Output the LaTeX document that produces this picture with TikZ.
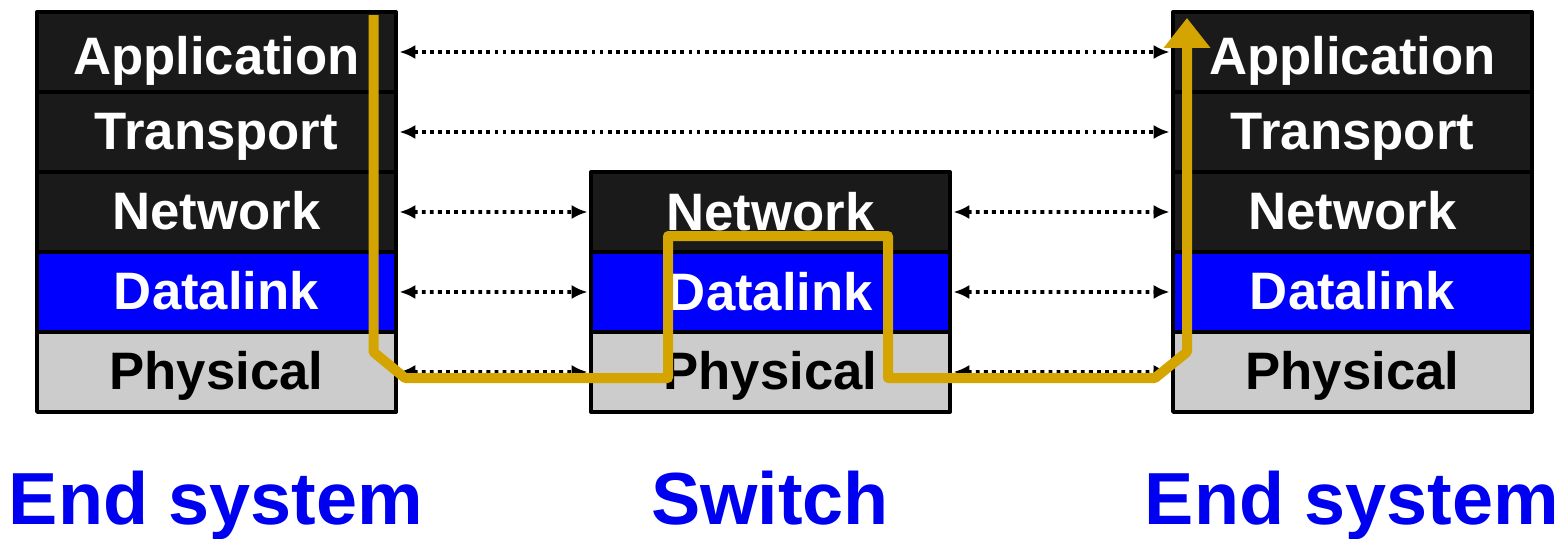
\documentclass[tikz,border=0pt]{standalone}
\usepackage{fontspec}
\setmainfont{Liberation Sans}
\usetikzlibrary{positioning,arrows.meta}

\definecolor{layerdark}{RGB}{26,26,26}
\definecolor{layerblue}{RGB}{0,0,255}
\definecolor{layergray}{RGB}{204,204,204}
\definecolor{pathgold}{RGB}{212,165,0}
\definecolor{titleblue}{RGB}{0,0,240}

\begin{document}
\begin{tikzpicture}[x=0.02cm,y=-0.02cm,line join=round,
    layer/.style={draw=black,line width=0.08cm,minimum width=7.18cm,minimum height=1.6cm,
                  inner sep=0pt,outer sep=0pt,text height=22pt,text depth=1.5pt,
                  font=\fontsize{30}{36}\selectfont\bfseries},
    upper/.style={layer,fill=layerdark,text=white},
    topmost/.style={upper,text height=28pt,text depth=2pt},
    link/.style={layer,fill=layerblue,text=white},
    phys/.style={layer,fill=layergray,text=black},
    peer/.style={line width=2.2pt,dash pattern=on 2.2pt off 2.4pt,
                 {Latex[length=9pt,width=8pt]}-{Latex[length=9pt,width=8pt]},
                 shorten <=2pt,shorten >=2pt},
    title/.style={text=titleblue,font=\fontsize{42}{48}\selectfont\bfseries,anchor=base}]
        \useasboundingbox (0,0) rectangle (1568,538);

        % Linkes Endsystem
        \node[topmost] (lapp) at (216.5,52) {Application};
        \node[upper,below=0pt of lapp] (ltra) {Transport};
        \node[upper,below=0pt of ltra] (lnet) {Network};
        \node[link,below=0pt of lnet] (ldat) {Datalink};
        \node[phys,below=0pt of ldat] (lphy) {Physical};

        % Switch
        \node[upper] (snet) at (770.5,212) {Network};
        \node[link,below=0pt of snet] (sdat) {Datalink};
        \node[phys,below=0pt of sdat] (sphy) {Physical};

        % Rechtes Endsystem
        \node[topmost] (rapp) at (1352.5,52) {Application};
        \node[upper,below=0pt of rapp] (rtra) {Transport};
        \node[upper,below=0pt of rtra] (rnet) {Network};
        \node[link,below=0pt of rnet] (rdat) {Datalink};
        \node[phys,below=0pt of rdat] (rphy) {Physical};

        % Peer-Verbindungen
        \draw[peer] (lapp.east) -- (rapp.west);
        \draw[peer] (ltra.east) -- (rtra.west);
        \draw[peer] (lnet.east) -- (snet.west);
        \draw[peer] (snet.east) -- (rnet.west);
        \draw[peer] (ldat.east) -- (sdat.west);
        \draw[peer] (sdat.east) -- (rdat.west);
        \draw[peer] (lphy.east) -- (sphy.west);
        \draw[peer] (sphy.east) -- (rphy.west);

        % Datenweg
        \coordinate (gstart) at (373.5,15);
        \coordinate (gend) at (1187,18);
        \draw[pathgold,line width=0.2cm,-{Triangle[length=0.6cm,width=0.9cm]}]
            (gstart) -- (373.5,352) -- (405,378) -- (668,378) -- (668,236)
            -- (888,236) -- (888,378) -- (1155,378) -- (1187,352) -- (gend);

        % Beschriftung
        \node[title] (lend) at (216,524) {End system};
        \node[title] (sw) at (770,524) {Switch};
        \node[title] (rend) at (1352,524) {End system};
    \end{tikzpicture}
\end{document}
